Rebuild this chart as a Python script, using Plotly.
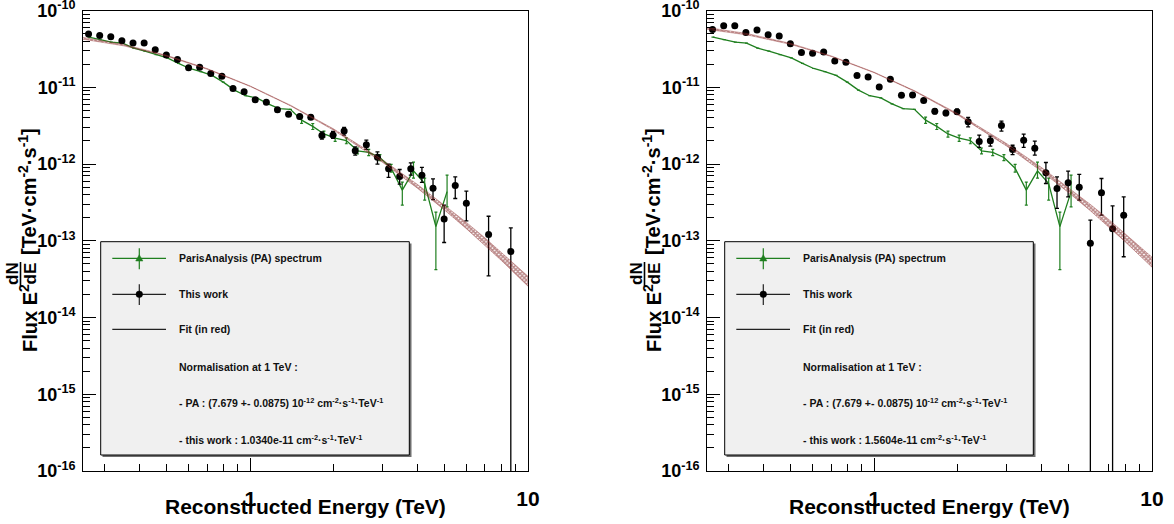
import math
import plotly.graph_objects as go

W, H = 1174, 524
FONT = "Liberation Sans, Arial, Helvetica, sans-serif"
GREEN = "#1f7f1f"
HATCH = "#7a1818"

# ---------------- data ----------------
# reconstructed-energy bin centres (TeV) of "This work"
bin_energy = [0.2618, 0.2871, 0.3148, 0.3451, 0.3784, 0.4150, 0.4550, 0.4989, 0.5470, 0.5998,
              0.6577, 0.7211, 0.7907, 0.8670, 0.9506, 1.0423, 1.1429, 1.2532, 1.3741, 1.5067,
              1.6521, 1.8115, 1.9863, 2.1780, 2.3881, 2.6186, 2.8713, 3.1483, 3.4521, 3.7852,
              4.1505, 4.5510, 4.9902, 5.4717, 5.9997, 6.5787, 7.2136, 7.9097, 8.6730]

# E^2 dN/dE in units of 1e-12 TeV cm^-2 s^-1  (None = empty bin)
left_flux = [49.4, 47.5, 45.5, 40.4, 37.7, 37.7, 30.8, 26.3, 23.1, 18.0,
             18.3, 15.2, 13.9, 9.68, 8.74, 6.91, 6.41, 5.09, 4.47, 4.16,
             4.09, 2.36, 2.40, 2.69, 1.49, 1.78, 1.23, 0.866, 0.691, 0.871,
             0.717, 0.485, 0.193, 0.526, 0.309, None, 0.121, None, 0.0725]
left_err_up = [2.0, 1.9, 1.8, 1.6, 1.5, 1.5, 1.2, 1.1, 0.9, 0.7,
               0.7, 0.6, 0.6, 0.5, 0.45, 0.35, 0.35, 0.28, 0.25, 0.24,
               0.24, 0.27, 0.26, 0.31, 0.19, 0.27, 0.21, 0.131, 0.159, 0.165,
               0.186, 0.156, 0.098, 0.155, 0.134, None, 0.088, None, 0.075]
left_err_down = [2.0, 1.9, 1.8, 1.6, 1.5, 1.5, 1.2, 1.1, 0.9, 0.7,
                 0.7, 0.6, 0.6, 0.5, 0.45, 0.35, 0.35, 0.28, 0.25, 0.24,
                 0.24, 0.25, 0.24, 0.31, 0.18, 0.23, 0.23, 0.197, 0.144, 0.154,
                 0.141, 0.140, 0.098, 0.170, 0.127, None, 0.086, None, 0.0725]

right_flux = [56.9, 63.3, 63.3, 52.0, 55.7, 48.4, 46.5, 36.9, 28.5, 27.9,
              28.8, 22.0, 21.3, 14.3, 13.6, 10.1, 12.7, 7.91, 7.96, 6.75,
              4.89, 4.64, 4.82, 3.55, 1.97, 2.01, 3.17, 1.55, 2.05, 1.61,
              0.772, 0.481, 0.569, 0.500, 0.0930, 0.424, 0.144, 0.216]
right_err_up = [2.3, 2.5, 2.5, 2.1, 2.2, 1.9, 1.9, 1.5, 1.1, 1.1,
                1.2, 0.9, 0.9, 0.7, 0.7, 0.5, 0.6, 0.4, 0.4, 0.3,
                0.37, 0.35, 0.36, 0.50, 0.41, 0.30, 0.45, 0.21, 0.40, 0.38,
                0.277, 0.200, 0.239, 0.232, 0.093, 0.225, 0.141, 0.158]
right_err_down = [2.3, 2.5, 2.5, 2.1, 2.2, 1.9, 1.9, 1.5, 1.1, 1.1,
                  1.2, 0.9, 0.9, 0.7, 0.7, 0.5, 0.6, 0.4, 0.4, 0.3,
                  0.37, 0.35, 0.36, 0.49, 0.32, 0.30, 0.48, 0.22, 0.40, 0.30,
                  0.214, 0.217, 0.195, 0.162, 0.0930, 0.208, 0.144, 0.154]

# ParisAnalysis (PA) spectrum (None = error bar hidden under the line)
pa_energy = [0.2627, 0.2882, 0.3162, 0.3470, 0.3807, 0.4177, 0.4583, 0.5029, 0.5517, 0.6054,
             0.6642, 0.7288, 0.7996, 0.8774, 0.9627, 1.0562, 1.1589, 1.2716, 1.3952, 1.5308,
             1.6796, 1.8429, 2.0220, 2.2186, 2.4343, 2.6709, 2.9305, 3.2154, 3.5280, 3.8709,
             4.2472, 4.6601, 5.1131]
pa_flux = [45.1, 41.9, 38.9, 37.7, 32.4, 29.6, 26.7, 24.2, 20.5, 17.6,
           16.0, 14.3, 11.7, 9.19, 7.77, 7.27, 6.08, 5.29, 5.17, 3.74,
           3.10, 2.47, 2.18, 2.02, 1.49, 1.42, 1.22, 0.882, 0.457, 0.815,
           0.557, 0.153, 0.437]
pa_err_up = [None] * 19 + [0.34, 0.28, 0.22, 0.20, 0.18, 0.13, 0.13, 0.11,
                           0.106, 0.124, 0.244, 0.098, 0.083, 0.280]
pa_err_down = [None] * 19 + [0.34, 0.28, 0.22, 0.20, 0.18, 0.13, 0.13, 0.11,
                             0.095, 0.166, 0.160, 0.219, 0.111, 0.160]

# fitted spectrum: centre and relative half-width
fit_energy = [0.25, 0.35, 0.5, 0.7, 1.0, 1.4, 2.0, 3.0, 4.0, 5.0, 6.0, 7.0, 8.0, 10.0]
fit_left = [4.355e-11, 3.548e-11, 2.582e-11, 1.738e-11, 1.034e-11, 5.768e-12, 2.805e-12,
            1.089e-12, 5.129e-13, 2.729e-13, 1.581e-13, 9.772e-14, 6.324e-14, 2.972e-14]
fit_right = [5.861e-11, 4.909e-11, 3.681e-11, 2.547e-11, 1.5604e-11, 8.913e-12, 4.446e-12,
             1.778e-12, 8.531e-13, 4.613e-13, 2.710e-13, 1.690e-13, 1.104e-13, 5.260e-14]
fit_halfwidth = [0.028, 0.021, 0.014, 0.009, 0.007, 0.009, 0.019, 0.038, 0.059, 0.079,
                 0.099, 0.117, 0.132, 0.161]

UNIT = 1e-12
x_tick_vals = [1, 10]
x_tick_text = ["<b>1</b>", "<b>10</b>"]
x_minor_vals = [0.3, 0.4, 0.5, 0.6, 0.7, 0.8, 0.9, 2, 3, 4, 5, 6, 7, 8, 9]
y_tick_exp = [-16, -15, -14, -13, -12, -11, -10]
y_minor_mult = [2, 3, 4, 5, 6, 7, 8, 9]

legend_lines = ["ParisAnalysis (PA) spectrum", "This work", "Fit (in red)",
                "Normalisation at 1 TeV :",
                "- PA : (7.679 +- 0.0875) 10<sup>-12</sup> cm<sup>-2</sup>\u00b7s<sup>-1</sup>\u00b7TeV<sup>-1</sup>"]
norm_left = "- this work : 1.0340e-11 cm<sup>-2</sup>\u00b7s<sup>-1</sup>\u00b7TeV<sup>-1</sup>"
norm_right = "- this work : 1.5604e-11 cm<sup>-2</sup>\u00b7s<sup>-1</sup>\u00b7TeV<sup>-1</sup>"


def scaled(vals):
    return [None if v is None else v * UNIT for v in vals]


def valid(xs, ys, up, dn):
    rows = [(x, y, u, d) for x, y, u, d in zip(xs, ys, up, dn) if y is not None]
    return ([r[0] for r in rows], [r[1] * UNIT for r in rows],
            [r[2] * UNIT for r in rows], [r[3] * UNIT for r in rows])


fig = go.Figure()


def add_panel(xa, ya, flux, eup, edn, fit):
    # PA spectrum
    fig.add_trace(go.Scatter(
        x=pa_energy, y=scaled(pa_flux), mode="lines", xaxis=xa, yaxis=ya,
        line=dict(color=GREEN, width=1.3), showlegend=False,
        error_y=dict(type="data", symmetric=False, array=scaled(pa_err_up),
                     arrayminus=scaled(pa_err_down), color=GREEN, thickness=1.2, width=1.5)))
    # this work
    ex, ey, eu, ed = valid(bin_energy, flux, eup, edn)
    fig.add_trace(go.Scatter(
        x=ex, y=ey, mode="markers", xaxis=xa, yaxis=ya, showlegend=False,
        marker=dict(symbol="circle", size=7, color="black"),
        error_y=dict(type="data", symmetric=False, array=eu, arrayminus=ed,
                     color="black", thickness=1.3, width=2)))
    # fit band
    lo = [f / (1 + w) for f, w in zip(fit, fit_halfwidth)]
    hi = [f * (1 + w) for f, w in zip(fit, fit_halfwidth)]
    fig.add_trace(go.Scatter(
        x=fit_energy, y=lo, mode="lines", xaxis=xa, yaxis=ya, showlegend=False,
        line=dict(color="rgba(150,55,55,0.7)", width=0.6)))
    fig.add_trace(go.Scatter(
        x=fit_energy, y=hi, mode="lines", xaxis=xa, yaxis=ya, showlegend=False,
        line=dict(color="rgba(150,55,55,0.7)", width=0.6), fill="tonexty",
        fillcolor="rgba(0,0,0,0)",
        fillpattern=dict(shape="x", fgcolor=HATCH, bgcolor="rgba(0,0,0,0)",
                         size=3, solidity=0.75)))


add_panel("x", "y", left_flux, left_err_up, left_err_down, fit_left)
add_panel("x2", "y2", right_flux, right_err_up, right_err_down, fit_right)


def xaxis_cfg(domain, anchor):
    return dict(domain=domain, anchor=anchor, type="log",
                range=[math.log10(0.25), 1.00005],
                showline=True, linecolor="black", linewidth=1, mirror=True,
                ticks="inside", ticklen=13, tickwidth=1, tickcolor="black",
                tickmode="array", tickvals=x_tick_vals, ticktext=x_tick_text,
                tickfont=dict(family=FONT, size=21, color="black"),
                ticklabelstandoff=9, automargin=False,
                minor=dict(ticks="inside", ticklen=7, tickwidth=1, tickcolor="black",
                           tickmode="array", tickvals=x_minor_vals, showgrid=False),
                showgrid=False, zeroline=False, fixedrange=True)


def yaxis_cfg(anchor):
    return dict(domain=[1 - 471.0 / H, 1 - 10.6 / H], anchor=anchor, type="log",
                range=[-16.0001, -9.9999],
                showline=True, linecolor="black", linewidth=1, mirror=True,
                ticks="inside", ticklen=13, tickwidth=1, tickcolor="black",
                tickmode="array", tickvals=[10.0 ** e for e in y_tick_exp],
                ticktext=["<b>10<sup>%d</sup></b>" % e for e in y_tick_exp],
                tickfont=dict(family=FONT, size=18, color="black"),
                ticklabelstandoff=3, ticklabeloverflow="allow", automargin=False,
                minor=dict(ticks="inside", ticklen=7, tickwidth=1, tickcolor="black",
                           tickmode="array",
                           tickvals=[m * 10.0 ** e for e in y_tick_exp[:-1] for m in y_minor_mult],
                           showgrid=False),
                showgrid=False, zeroline=False, fixedrange=True)


def px(x):
    return x / W


def py(y):
    return 1 - y / H


shapes = []
annotations = []


def txt(x, y, text, size, angle=0, xanchor="center", yanchor="middle", color="black"):
    annotations.append(dict(x=px(x), y=py(y), xref="paper", yref="paper", text=text,
                            showarrow=False, textangle=angle, xanchor=xanchor,
                            yanchor=yanchor, font=dict(family=FONT, size=size, color=color)))


def line(x0, y0, x1, y1, color, width=1.2):
    shapes.append(dict(type="line", xref="paper", yref="paper", x0=px(x0), y0=py(y0),
                       x1=px(x1), y1=py(y1), line=dict(color=color, width=width)))


def decorate(dx, norm_text):
    # axis title
    txt(305.5 + dx, 506, "<b>Reconstructed Energy (TeV)</b>", 21)
    # y title (ROOT-like with fraction)
    txt(28 + dx, 318, "<b>Flux E<sup>2</sup></b>", 20, angle=-90)
    txt(12 + dx, 274, "<b>dN</b>", 17, angle=-90)
    txt(29.5 + dx, 274, "<b>dE</b>", 17, angle=-90)
    line(20.5 + dx, 262, 20.5 + dx, 286, "black", 1.6)
    txt(28 + dx, 192, "<b>[TeV\u00b7cm<sup>-2</sup>\u00b7s<sup>-1</sup>]</b>", 20, angle=-90)
    # legend box
    shapes.append(dict(type="rect", xref="paper", yref="paper",
                       x0=px(102.5 + dx), x1=px(411.5 + dx), y0=py(457), y1=py(243.5),
                       fillcolor="#6e6e6e", line=dict(width=0)))
    shapes.append(dict(type="rect", xref="paper", yref="paper",
                       x0=px(100.7 + dx), x1=px(409.3 + dx), y0=py(455), y1=py(241.7),
                       fillcolor="#f0f0f0", line=dict(color="black", width=1)))
    # entry 1: PA
    line(112.3 + dx, 258.3, 166 + dx, 258.3, GREEN)
    line(139.3 + dx, 248.3, 139.3 + dx, 269.3, GREEN)
    cx, cy, r = 139.3 + dx, 258.3, 3.6
    shapes.append(dict(type="path", xref="paper", yref="paper",
                       path="M %f,%f L %f,%f L %f,%f Z" % (px(cx), py(cy - r), px(cx - r), py(cy + r * 0.75),
                                                          px(cx + r), py(cy + r * 0.75)),
                       fillcolor=GREEN, line=dict(color=GREEN, width=0.5)))
    # entry 2: this work
    line(112.3 + dx, 294.3, 166 + dx, 294.3, "#222222")
    line(139.3 + dx, 284.3, 139.3 + dx, 305, "#222222")
    shapes.append(dict(type="circle", xref="paper", yref="paper",
                       x0=px(139.3 + dx - 3.3), x1=px(139.3 + dx + 3.3),
                       y0=py(294.3 + 3.3), y1=py(294.3 - 3.3),
                       fillcolor="black", line=dict(color="black", width=0.5)))
    # entry 3: fit
    line(112.3 + dx, 329.3, 166 + dx, 329.3, "#222222")
    ys = [258.3, 294.3, 329.3, 367, 402.3, 439.3]
    texts = legend_lines + [norm_text]
    for yy, t in zip(ys, texts):
        txt(177 + dx, yy, "<b>%s</b>" % t, 10.5, xanchor="left", color="#111111")


decorate(0, norm_left)
decorate(624, norm_right)

fig.update_layout(
    width=W, height=H, autosize=False,
    margin=dict(l=0, r=0, t=0, b=0, pad=0, autoexpand=False),
    paper_bgcolor="white", plot_bgcolor="white",
    xaxis=xaxis_cfg([83.0 / W, 528.0 / W], "y"),
    yaxis=yaxis_cfg("x"),
    xaxis2=xaxis_cfg([707.0 / W, 1152.0 / W], "y2"),
    yaxis2=yaxis_cfg("x2"),
    shapes=shapes, annotations=annotations, showlegend=False,
)

fig.write_html("out.html", config={"displayModeBar": False},
               post_script="document.body.style.margin='0px';"
                           "document.body.style.overflow='hidden';"
                           "document.documentElement.style.overflow='hidden';")
